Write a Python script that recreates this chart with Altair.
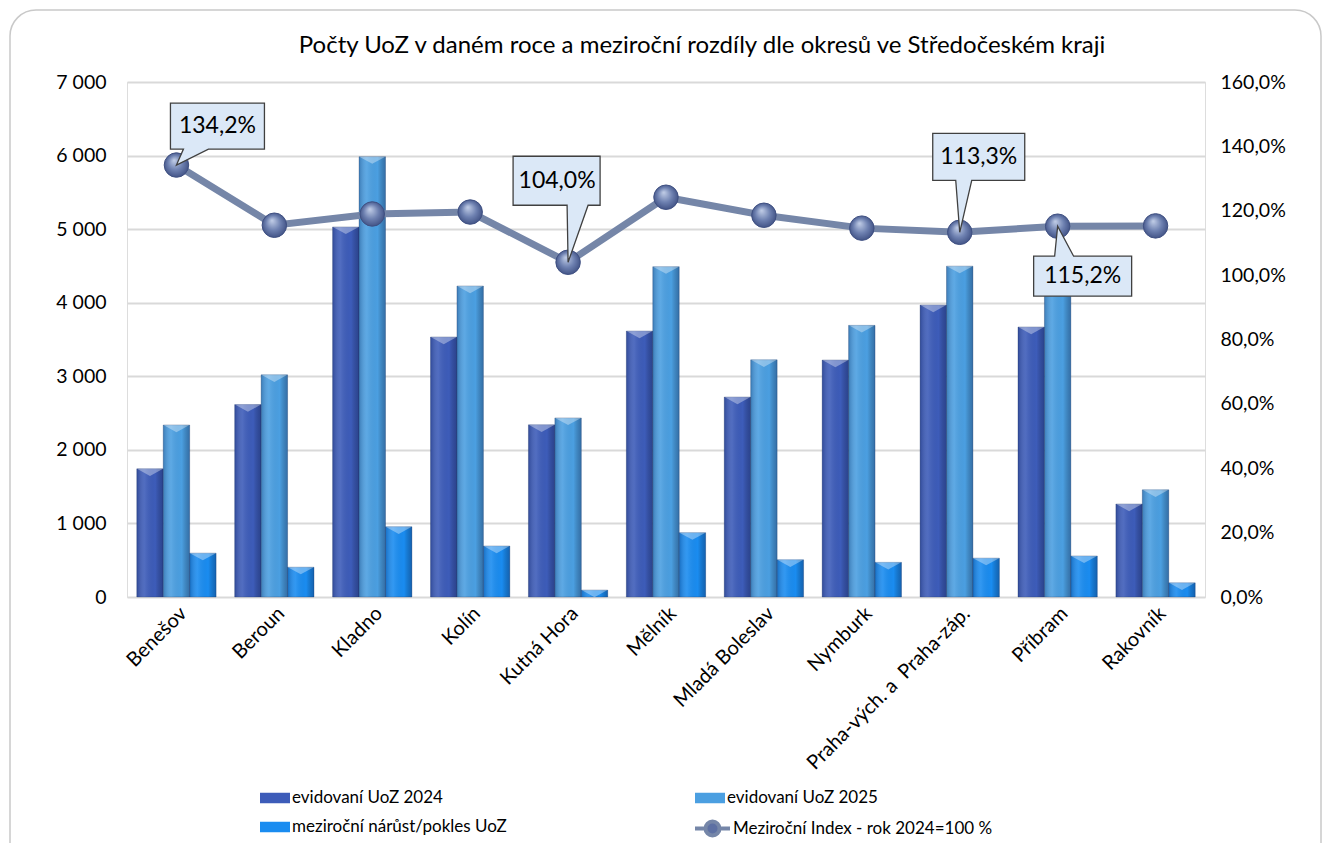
import altair as alt
import pandas as pd

# ---------------- data ----------------
categories = ["Benešov", "Beroun", "Kladno", "Kolín", "Kutná Hora", "Mělník",
              "Mladá Boleslav", "Nymburk", "Praha-vých. a\u00a0 Praha-záp.", "Příbram", "Rakovník"]
uoz_2024 = [1742, 2615, 5030, 3534, 2340, 3615, 2718, 3221, 3969, 3670, 1264]
uoz_2025 = [2338, 3020, 5985, 4227, 2434, 4490, 3224, 3692, 4497, 4228, 1457]
change = [596, 405, 955, 693, 94, 875, 506, 471, 528, 558, 193]
index_pct = [134.2, 115.5, 119.0, 119.6, 104.0, 124.2, 118.6, 114.6, 113.3, 115.2, 115.3]

series_names = ["evidovaní UoZ 2024", "evidovaní UoZ 2025", "meziroční nárůst/pokles UoZ"]
index_name = "Meziroční Index - rok 2024=100 %"
left_ticks = [0, 1000, 2000, 3000, 4000, 5000, 6000, 7000]
right_ticks = [0, 0.2, 0.4, 0.6, 0.8, 1.0, 1.2, 1.4, 1.6]
title_text = "Počty UoZ v daném roce a meziroční rozdíly dle okresů ve Středočeském kraji"

FONT = "Lato"
bar_colors = ["#3d5cb9", "#4b9fe1", "#1a8cf0"]

bars_df = pd.DataFrame({
    "okres": categories * 3,
    "serie": [s for s in series_names for _ in categories],
    "pocet": uoz_2024 + uoz_2025 + change,
})
idx_df = pd.DataFrame({
    "okres": categories,
    "index": [v / 100 for v in index_pct],
    "serie": [index_name] * len(categories),
    "label": [f"{v:.1f}%".replace(".", ",") for v in index_pct],
})

x_enc = alt.X(
    "okres:N", sort=categories,
    scale=alt.Scale(paddingInner=0.19, paddingOuter=0.1),
    axis=alt.Axis(title=None, labelAngle=-45, labelAlign="right", labelBaseline="top",
                  labelFont=FONT, labelFontSize=20, labelColor="#000", labelPadding=6,
                  domain=False, ticks=False, labelLimit=400),
)
x_off = alt.XOffset("serie:N", sort=series_names)

# ---------------- frame + title ----------------
one = pd.DataFrame({"k": [0]})
frame = alt.Chart(one).mark_rect(
    fill=None, stroke="#c9c9c9", strokeWidth=1.5, cornerRadius=26
).encode(x=alt.value(-117), x2=alt.value(1194), y=alt.value(-72), y2=alt.value(900))

title = alt.Chart(one).mark_text(
    font=FONT, fontSize=24, color="#000", align="center", baseline="middle"
).encode(x=alt.value(575), y=alt.value(-36), text=alt.value(title_text))

# ---------------- bars ----------------
y_left = alt.Y(
    "pocet:Q", scale=alt.Scale(domain=[0, 7000], nice=False),
    axis=alt.Axis(values=left_ticks, title=None,
                  labelExpr="replace(format(datum.value, ','), ',', ' ')",
                  grid=True, gridColor="#d9d9d9", gridWidth=1.8, domain=False, ticks=False,
                  labelPadding=21, labelFont=FONT, labelFontSize=19.5, labelColor="#000"),
)

bars = alt.Chart(bars_df).mark_bar(stroke="#1f3566", strokeWidth=0.6, strokeOpacity=0.5).encode(
    x=x_enc,
    xOffset=x_off,
    y=y_left,
    fill=alt.Fill("serie:N", sort=series_names,
                  scale=alt.Scale(domain=series_names, range=bar_colors),
                  legend=alt.Legend(title=None, orient="none", legendX=133, legendY=701,
                                    direction="horizontal", columns=2, columnPadding=188,
                                    rowPadding=6,
                                    symbolType="M-1,-0.35H1V0.35H-1Z", symbolSize=900,
                                    symbolStrokeWidth=0, labelFont=FONT, labelFontSize=17,
                                    labelColor="#000", labelOffset=2, labelLimit=0)),
)

shade = alt.Chart(bars_df).mark_bar(
    fill={"gradient": "linear", "x1": 0, "y1": 0, "x2": 1, "y2": 0,
          "stops": [{"offset": 0, "color": "rgba(10,20,60,0.25)"},
                    {"offset": 0.3, "color": "rgba(255,255,255,0.10)"},
                    {"offset": 0.7, "color": "rgba(0,0,0,0.0)"},
                    {"offset": 1, "color": "rgba(10,20,60,0.35)"}]}
).encode(x=x_enc, xOffset=x_off, y=alt.Y("pocet:Q"))

# bevel highlight at the top of each bar
bevel = alt.Chart(bars_df).mark_point(
    shape="M-1,0H1L0,0.55Z", size=680, filled=True, opacity=1,
    fill="rgba(255,255,255,0.35)", strokeWidth=0
).encode(x=x_enc, xOffset=x_off, y=alt.Y("pocet:Q"))

left = alt.layer(frame, title, bars, shade, bevel)

# ---------------- index line ----------------
y_right = alt.Y(
    "index:Q", scale=alt.Scale(domain=[0, 1.6], nice=False),
    axis=alt.Axis(orient="right", values=right_ticks, title=None,
                  labelExpr="replace(format(datum.value, '.1%'), '.', ',')",
                  grid=False, domain=False, ticks=False, labelPadding=15,
                  labelFont=FONT, labelFontSize=19.5, labelColor="#000"),
)

line = alt.Chart(idx_df).mark_line(strokeWidth=7).encode(
    x=x_enc, y=y_right,
    stroke=alt.Stroke("serie:N", scale=alt.Scale(domain=[index_name], range=["#7586a8"]),
                      legend=alt.Legend(title=None, orient="none", legendX=566, legendY=727,
                                        symbolType="M-1,0H-0.4M0.4,0H1M-0.4,0A0.4,0.4 0 1,0 0.4,0A0.4,0.4 0 1,0 -0.4,0Z",
                                        symbolSize=1225, symbolStrokeWidth=4,
                                        symbolFillColor="#5d70a3",
                                        labelFont=FONT, labelFontSize=17, labelColor="#000",
                                        labelOffset=1, labelLimit=0)),
)

points = alt.Chart(idx_df).mark_point(
    shape="circle", size=600, filled=True, opacity=1,
    fill={"gradient": "radial", "x1": 0.4, "y1": 0.3, "r1": 0, "x2": 0.5, "y2": 0.5, "r2": 0.55,
          "stops": [{"offset": 0, "color": "#c3cfe8"},
                    {"offset": 0.55, "color": "#6d80b0"},
                    {"offset": 1, "color": "#3c4d80"}]},
    stroke="#3f5082", strokeWidth=1,
).encode(x=x_enc, y=alt.Y("index:Q"))

# callouts: (category, path with tip at the point, text dx, text dy)
callouts = [
    ("Benešov", "M-6,-62H88V-16H32L0,0L7,-16H-6Z", 41, -39),
    ("Kutná Hora", "M-55,-106H32V-57H20L0,0L-1,-57H-55Z", -11, -81),
    (categories[8], "M-27,-99H65V-52H12L0,0L-4,-52H-27Z", 19, -75),
    ("Příbram", "M-24,30H-3L0,0L16,30H74V70H-24Z", 25, 50),
]
callout_layers = []
for cat, path, dx, dy in callouts:
    base = alt.Chart(idx_df).transform_filter(alt.datum.okres == cat)
    box = base.mark_point(shape=path, size=4, filled=True, opacity=1, fill="#dbe8f7",
                          stroke="#404040", strokeWidth=1.3).encode(x=x_enc, y=alt.Y("index:Q"))
    txt = base.mark_text(dx=dx, dy=dy, font=FONT, fontSize=23, color="#000").encode(
        x=x_enc, y=alt.Y("index:Q"), text="label:N")
    callout_layers += [box, txt]

right = alt.layer(line, points, *callout_layers)

chart = alt.layer(left, right).resolve_scale(
    y="independent", fill="independent", stroke="independent"
).properties(
    width=1078, height=515,
    autosize=alt.AutoSizeParams(type="none"),
    padding={"left": 119, "top": 74, "right": 117, "bottom": 246},
).configure_view(stroke=None).configure(background="white")

chart.save("out.html", embed_options={"renderer": "svg", "actions": False})
